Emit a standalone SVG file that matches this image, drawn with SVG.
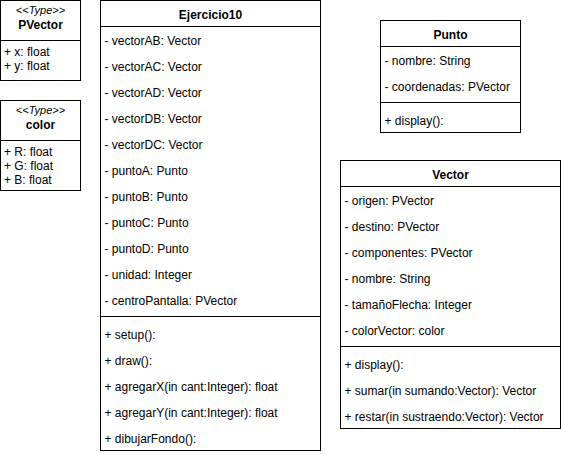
<svg xmlns="http://www.w3.org/2000/svg" width="561" height="454" viewBox="0 0 561 454">
<style>
.box{fill:#ffffff;stroke:#000000;stroke-width:1}
.ln{stroke:#000000;stroke-width:1;fill:none}
text{font-family:"Liberation Sans",Arial,Helvetica,sans-serif;font-size:12px;fill:#000000}
.hd{font-weight:bold;text-anchor:middle}
.st{font-style:italic;font-size:11px;text-anchor:middle}
</style>
<rect width="561" height="454" fill="#ffffff"/>
<g id="PVector">
<rect class="box" x="0.5" y="0.5" width="80" height="80"/>
<line class="ln" x1="0.5" y1="40.5" x2="80.5" y2="40.5"/>
<text class="st" x="40.5" y="14">&lt;&lt;Type&gt;&gt;</text>
<text class="hd" x="40.5" y="29">PVector</text>
<text x="4" y="56">+ x: float</text>
<text x="4" y="70">+ y: float</text>
</g>
<g id="color">
<rect class="box" x="0.5" y="100.5" width="80" height="90"/>
<line class="ln" x1="0.5" y1="140.5" x2="80.5" y2="140.5"/>
<text class="st" x="40.5" y="114">&lt;&lt;Type&gt;&gt;</text>
<text class="hd" x="40.5" y="129">color</text>
<text x="4" y="156">+ R: float</text>
<text x="4" y="170">+ G: float</text>
<text x="4" y="184">+ B: float</text>
</g>
<g id="Ejercicio10">
<rect class="box" x="100.5" y="0.5" width="220" height="450"/>
<line class="ln" x1="100.5" y1="26.5" x2="320.5" y2="26.5"/>
<line class="ln" x1="100.5" y1="316.5" x2="320.5" y2="316.5"/>
<text class="hd" x="210.5" y="18.5">Ejercicio10</text>
<text x="104.5" y="44.5">- vectorAB: Vector</text>
<text x="104.5" y="70.5">- vectorAC: Vector</text>
<text x="104.5" y="96.5">- vectorAD: Vector</text>
<text x="104.5" y="122.5">- vectorDB: Vector</text>
<text x="104.5" y="148.5">- vectorDC: Vector</text>
<text x="104.5" y="174.5">- puntoA: Punto</text>
<text x="104.5" y="200.5">- puntoB: Punto</text>
<text x="104.5" y="226.5">- puntoC: Punto</text>
<text x="104.5" y="252.5">- puntoD: Punto</text>
<text x="104.5" y="278.5">- unidad: Integer</text>
<text x="104.5" y="304.5">- centroPantalla: PVector</text>
<text x="104.5" y="338.5">+ setup():</text>
<text x="104.5" y="364.5">+ draw():</text>
<text x="104.5" y="390.5">+ agregarX(in cant:Integer): float</text>
<text x="104.5" y="416.5">+ agregarY(in cant:Integer): float</text>
<text x="104.5" y="442.5">+ dibujarFondo():</text>
</g>
<g id="Punto">
<rect class="box" x="380.5" y="20.5" width="140" height="112"/>
<line class="ln" x1="380.5" y1="46.5" x2="520.5" y2="46.5"/>
<line class="ln" x1="380.5" y1="102.5" x2="520.5" y2="102.5"/>
<text class="hd" x="450.5" y="38.5">Punto</text>
<text x="384.5" y="64.5">- nombre: String</text>
<text x="384.5" y="90.5">- coordenadas: PVector</text>
<text x="384.5" y="124.5">+ display():</text>
</g>
<g id="Vector">
<rect class="box" x="340.5" y="160.5" width="220" height="268"/>
<line class="ln" x1="340.5" y1="186.5" x2="560.5" y2="186.5"/>
<line class="ln" x1="340.5" y1="346.5" x2="560.5" y2="346.5"/>
<text class="hd" x="450.5" y="178.5">Vector</text>
<text x="344.5" y="204.5">- origen: PVector</text>
<text x="344.5" y="230.5">- destino: PVector</text>
<text x="344.5" y="256.5">- componentes: PVector</text>
<text x="344.5" y="282.5">- nombre: String</text>
<text x="344.5" y="308.5">- tamañoFlecha: Integer</text>
<text x="344.5" y="334.5">- colorVector: color</text>
<text x="344.5" y="368.5">+ display():</text>
<text x="344.5" y="394.5">+ sumar(in sumando:Vector): Vector</text>
<text x="344.5" y="420.5">+ restar(in sustraendo:Vector): Vector</text>
</g>
<g id="connectors"></g>
</svg>
